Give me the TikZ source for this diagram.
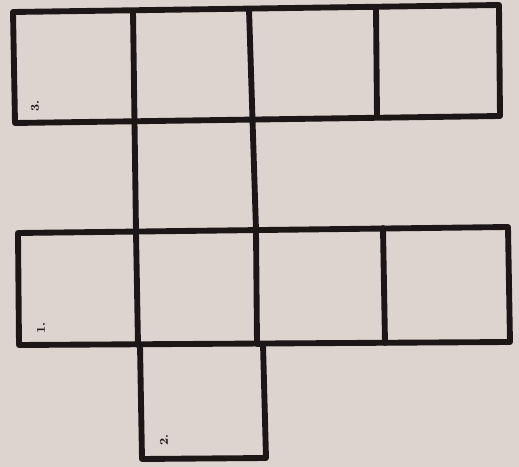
\documentclass[tikz,border=0pt]{standalone}
\begin{document}
\begin{tikzpicture}[x=0.75pt,y=-0.75pt,
  edge/.style={line width=4.4pt,color=ink,line cap=round,line join=round},
  lbl/.style={rotate=90,font=\bfseries\small,text=ink,inner sep=0pt}]
\definecolor{paper}{RGB}{222,212,207}
\definecolor{ink}{RGB}{28,22,22}
\fill[paper] (0,0) rectangle (519,467);
\useasboundingbox (0,0) rectangle (519,467);
% top row
\draw[edge] (13,12) -- (499,5) -- (500,116) -- (15,123) -- cycle;
\draw[edge] (133,11) -- (136,232) -- (138,345) -- (140,345) -- (142,459) -- (266,458) -- (263,344) -- (257,344) -- (256,230) -- (249,9);
\draw[edge] (376,7) -- (377,117);
% third row
\draw[edge] (18,233) -- (508,227) -- (510,342) -- (19,345) -- cycle;
\draw[edge] (383,228) -- (385,343);
% labels
\node[lbl] (l3) at (35,106) {3.};
\node[lbl] (l1) at (41,328) {1.};
\node[lbl] (l2) at (164,440) {2.};
\end{tikzpicture}
\end{document}
